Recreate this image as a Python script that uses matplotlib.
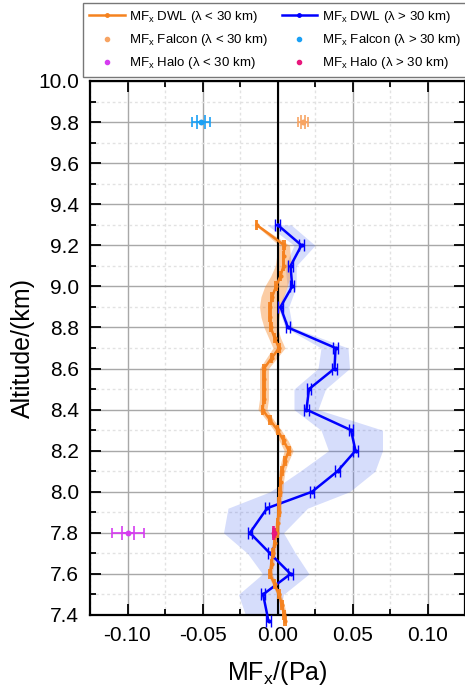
import matplotlib
matplotlib.use("Agg")
import matplotlib.pyplot as plt
import numpy as np
from matplotlib.lines import Line2D
from matplotlib.ticker import MultipleLocator

plt.rcParams['font.family'] = ['Liberation Sans', 'DejaVu Sans']
plt.rcParams['mathtext.fontset'] = 'custom'
plt.rcParams['mathtext.rm'] = 'Liberation Sans'
plt.rcParams['mathtext.it'] = 'Liberation Sans'

# ---- DWL lambda < 30 km (orange) ----
alt_small = [9.30, 9.20, 9.15, 9.10, 9.05, 9.00, 8.95, 8.90, 8.85, 8.80, 8.75, 8.70,
             8.65, 8.60, 8.55, 8.50, 8.45, 8.40, 8.35, 8.30, 8.25, 8.20, 8.15, 8.10,
             8.05, 8.00, 7.95, 7.90, 7.85, 7.80, 7.75, 7.70, 7.65, 7.60, 7.55, 7.50,
             7.45, 7.40, 7.37]
mf_small = [-0.0140, 0.0045, 0.0040, 0.0040, 0.0020, -0.0010, -0.0035, -0.0050, -0.0050,
            -0.0045, -0.0020, 0.0010, -0.0040, -0.0090, -0.0090, -0.0090, -0.0090, -0.0100,
            -0.0050, 0.0000, 0.0040, 0.0075, 0.0050, 0.0030, 0.0020, 0.0015, 0.0010,
            0.0010, 0.0000, -0.0005, -0.0020, -0.0030, -0.0040, -0.0050, -0.0020, 0.0010,
            0.0030, 0.0045, 0.0050]
unc_small = [0.0010, 0.0035, 0.0045, 0.0055, 0.0065, 0.0075, 0.0075, 0.0070, 0.0060,
             0.0045, 0.0040, 0.0040, 0.0035, 0.0030, 0.0030, 0.0030, 0.0030, 0.0030,
             0.0025, 0.0025, 0.0030, 0.0030, 0.0025, 0.0020, 0.0020, 0.0020, 0.0015,
             0.0015, 0.0015, 0.0015, 0.0015, 0.0015, 0.0015, 0.0015, 0.0015, 0.0015,
             0.0015, 0.0015, 0.0015]

# ---- DWL lambda > 30 km (blue) ----
alt_large = [9.30, 9.20, 9.10, 9.00, 8.90, 8.80, 8.70, 8.60, 8.50, 8.40, 8.30, 8.20,
             8.10, 8.00, 7.92, 7.80, 7.70, 7.60, 7.50, 7.37]
mf_large = [0.0000, 0.0160, 0.0087, 0.0098, 0.0020, 0.0069, 0.0387, 0.0380, 0.0210,
            0.0193, 0.0490, 0.0520, 0.0400, 0.0230, -0.0069, -0.0184, -0.0050, 0.0087,
            -0.0096, -0.0060]
band_lo_large = [-0.0070, 0.0110, 0.0050, 0.0065, 0.0005, 0.0050, 0.0290, 0.0270, 0.0110,
                 0.0110, 0.0290, 0.0340, 0.0150, -0.0050, -0.0330, -0.0360, -0.0200, -0.0100,
                 -0.0260, -0.0200]
band_hi_large = [0.0090, 0.0250, 0.0125, 0.0125, 0.0075, 0.0100, 0.0470, 0.0480, 0.0320,
                 0.0270, 0.0700, 0.0700, 0.0650, 0.0480, 0.0200, 0.0040, 0.0120, 0.0210,
                 0.0040, 0.0005]

# ---- Falcon / Halo single points ----
falcon_small = dict(alt=9.80, mf=0.0170, err1=0.0015, err2=0.0035)
falcon_large = dict(alt=9.80, mf=-0.0510, err1=0.0024, err2=0.0060)
halo_small = dict(alt=7.80, mf=-0.0996, err1=0.0040, err2=0.0105)
halo_large = dict(alt=7.80, mf=-0.0025, err1=0.0004, err2=0.0007)

c_or = '#f5821f'
c_bl = '#0000ff'
c_fs = '#f7a463'
c_fl = '#1aa0f5'
c_hs = '#d63cf0'
c_hl = '#e8177c'

fig = plt.figure(figsize=(4.65, 6.9), dpi=100)
ax = fig.add_axes([90/465, 1-615/690, 375/465, 534/690])

ax.set_xlim(-0.125, 0.125)
ax.set_ylim(7.4, 10.0)
ax.xaxis.set_major_locator(MultipleLocator(0.05))
ax.xaxis.set_minor_locator(MultipleLocator(0.025))
ax.yaxis.set_major_locator(MultipleLocator(0.2))
ax.yaxis.set_minor_locator(MultipleLocator(0.1))
ax.grid(which='major', color='#a8a8a8', lw=1.0, ls='-', zorder=0)
ax.grid(which='minor', color='#e2e2e2', lw=1.0, ls=(0, (2, 2)), zorder=0)
ax.set_axisbelow(True)
ax.tick_params(which='both', direction='in', top=True, right=True, width=1.3,
               labelsize=15, pad=8)
ax.tick_params(which='major', length=8)
ax.tick_params(which='minor', length=4)
ax.xaxis.set_major_formatter(matplotlib.ticker.FormatStrFormatter('%.2f'))
ax.yaxis.set_major_formatter(matplotlib.ticker.FormatStrFormatter('%.1f'))
for s in ax.spines.values():
    s.set_linewidth(1.6)

a_s = np.array(alt_small); m_s = np.array(mf_small); u_s = np.array(unc_small)
a_l = np.array(alt_large); m_l = np.array(mf_large)

ax.fill_betweenx(a_l, band_lo_large, band_hi_large, color='#3355ee', alpha=0.2,
                 lw=0, zorder=1)
ax.fill_betweenx(a_s, m_s - u_s, m_s + u_s, color=c_or, alpha=0.4, lw=0, zorder=2)
ax.axvline(0, color='black', lw=1.5, zorder=3)

ax.errorbar(m_l, a_l, xerr=0.0015, color=c_bl, lw=1.8, capsize=4, capthick=1.0,
            elinewidth=1.0, marker='o', ms=2, zorder=4, clip_on=False)
ax.errorbar(m_s, a_s, xerr=0.0006, color=c_or, lw=1.8, capsize=3.5, capthick=1.3,
            elinewidth=1.0, marker='o', ms=2, zorder=5, clip_on=False)

for d, c, z in [(falcon_small, c_fs, 6), (falcon_large, c_fl, 6),
                (halo_small, c_hs, 6), (halo_large, c_hl, 6)]:
    ax.errorbar([d['mf']], [d['alt']], xerr=d['err2'], color=c, lw=0, elinewidth=1.2,
                capsize=3.5, capthick=1.2, marker='o', ms=3, zorder=z)
    ax.errorbar([d['mf']], [d['alt']], xerr=d['err1'], color=c, lw=0, elinewidth=1.2,
                capsize=5, capthick=1.2, marker='o', ms=3, zorder=z)

ax.set_xlabel('MF$_\\mathregular{x}$/(Pa)', fontsize=18, labelpad=10)
ax.set_ylabel('Altitude/(km)', fontsize=18, labelpad=2)

handles = [
    Line2D([], [], color=c_or, lw=1.8, marker='o', ms=2.5),
    Line2D([], [], color=c_fs, lw=0, marker='o', ms=3),
    Line2D([], [], color=c_hs, lw=0, marker='o', ms=3),
    Line2D([], [], color=c_bl, lw=1.8, marker='o', ms=2.5),
    Line2D([], [], color=c_fl, lw=0, marker='o', ms=3),
    Line2D([], [], color=c_hl, lw=0, marker='o', ms=3),
]
labels = [
    'MF$_\\mathregular{x}$ DWL (λ < 30 km)',
    'MF$_\\mathregular{x}$ Falcon (λ < 30 km)',
    'MF$_\\mathregular{x}$ Halo (λ < 30 km)',
    'MF$_\\mathregular{x}$ DWL (λ > 30 km)',
    'MF$_\\mathregular{x}$ Falcon (λ > 30 km)',
    'MF$_\\mathregular{x}$ Halo (λ > 30 km)',
]
leg = fig.legend(handles, labels, ncol=2, loc='upper left',
                 bbox_to_anchor=(83/465, 1-3/690), fontsize=9.5, frameon=True,
                 fancybox=False, edgecolor='#555555', handlelength=2.7,
                 columnspacing=1.0, labelspacing=0.55, borderpad=0.45,
                 handletextpad=0.35, borderaxespad=0)
leg.get_frame().set_linewidth(1.0)

fig.savefig('out.png', dpi=100)
